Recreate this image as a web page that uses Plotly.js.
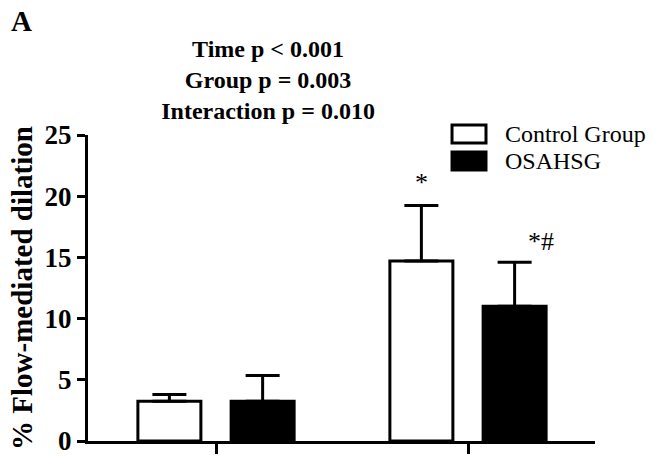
<!DOCTYPE html>
<html>
<head>
<meta charset="utf-8">
<script src="https://cdn.plot.ly/plotly-3.0.1.min.js"></script>
<style>html,body{margin:0;padding:0;background:#fff;}#chart{width:657px;height:456px;}</style>
</head>
<body>
<div id="chart"></div>
<script>
// Data
const categories = ["Baseline", "Follow-up"];
const seriesNames = ["Control Group", "OSAHSG"];
const controlValues = [3.25, 14.7];
const controlErrors = [0.55, 4.55];
const osahsgValues = [3.25, 11.0];
const osahsgErrors = [2.1, 3.6];
const controlMarks = ["", "*"];
const osahsgMarks = ["", "*#"];
const titleLines = ["Time p < 0.001", "Group p = 0.003", "Interaction p = 0.010"];
const yTicks = [0, 5, 10, 15, 20, 25];

const serif = "Liberation Serif, Times New Roman, serif";
const barW = 0.25;
const offsets = [-0.31, 0.06];

const errStyle = (arr) => ({
  type: "data", array: arr, arrayminus: arr.map(() => 0), symmetric: false,
  color: "#000", thickness: 3, width: 17, visible: true
});

const traces = [
  {
    type: "bar", name: seriesNames[0], x: categories, y: controlValues,
    width: barW, offset: offsets[0],
    marker: {color: "#fff", line: {color: "#000", width: 3}},
    error_y: errStyle(controlErrors), showlegend: false, hoverinfo: "skip"
  },
  {
    type: "bar", name: seriesNames[1], x: categories, y: osahsgValues,
    width: barW, offset: offsets[1],
    marker: {color: "#000", line: {color: "#000", width: 3}},
    error_y: errStyle(osahsgErrors), showlegend: false, hoverinfo: "skip"
  }
];

const annotations = [];
categories.forEach((c, i) => {
  if (controlMarks[i]) annotations.push({
    x: i + offsets[0] + barW / 2, y: controlValues[i] + controlErrors[i], xref: "x", yref: "y",
    text: controlMarks[i], showarrow: false, yanchor: "bottom", yshift: 6,
    font: {family: serif, size: 26, color: "#000"}
  });
  if (osahsgMarks[i]) annotations.push({
    x: i + offsets[1] + barW / 2, y: osahsgValues[i] + osahsgErrors[i], xref: "x", yref: "y",
    text: osahsgMarks[i], showarrow: false, xanchor: "left", xshift: 11, yanchor: "bottom", yshift: 4,
    font: {family: serif, size: 26, color: "#000"}
  });
});
// panel label
annotations.push({
  x: -0.156, y: 1.43, xref: "paper", yref: "paper", text: "<b>A</b>", showarrow: false,
  xanchor: "left", yanchor: "top", font: {family: serif, size: 29, color: "#000"}
});
// manual legend
const shapes = [
  {type: "rect", xref: "paper", yref: "paper", x0: 0.718, x1: 0.785, y0: 0.974, y1: 1.0326,
   line: {color: "#000", width: 3}, fillcolor: "#fff"},
  {type: "rect", xref: "paper", yref: "paper", x0: 0.718, x1: 0.785, y0: 0.886, y1: 0.9445,
   line: {color: "#000", width: 3}, fillcolor: "#000"}
];
annotations.push({
  x: 0.8185, y: 1.003, xref: "paper", yref: "paper", text: seriesNames[0], showarrow: false,
  xanchor: "left", yanchor: "middle", font: {family: serif, size: 24, color: "#000"}
});
annotations.push({
  x: 0.8185, y: 0.915, xref: "paper", yref: "paper", text: seriesNames[1], showarrow: false,
  xanchor: "left", yanchor: "middle", font: {family: serif, size: 24, color: "#000"}
});

const layout = {
  width: 657, height: 456,
  margin: {l: 88, r: 62, t: 135, b: 14.5},
  paper_bgcolor: "#fff", plot_bgcolor: "#fff",
  barmode: "overlay",
  title: {
    text: titleLines.map(t => "<b>" + t + "</b>").join("<br>"),
    xref: "container", yref: "container", x: 0.408, xanchor: "center",
    y: 1 - 57 / 456, yanchor: "top",
    font: {family: serif, size: 24, color: "#000"}
  },
  xaxis: {
    type: "category", range: [-0.508, 1.504], showticklabels: false,
    ticks: "outside", ticklen: 10, tickwidth: 3, tickcolor: "#000",
    showline: true, linecolor: "#000", linewidth: 3, showgrid: false, zeroline: false,
    fixedrange: true
  },
  yaxis: {
    range: [0, 25], tickvals: yTicks, ticktext: yTicks.map(String),
    ticks: "outside", ticklen: 8, tickwidth: 3, tickcolor: "#000",
    showline: true, linecolor: "#000", linewidth: 3, showgrid: false, zeroline: false,
    ticklabeloverflow: "allow",
    tickfont: {family: serif, size: 27, color: "#000", weight: "bold"},
    title: {text: "<b>% Flow-mediated dilation</b>", font: {family: serif, size: 29, color: "#000"}, standoff: 4},
    fixedrange: true
  },
  annotations: annotations,
  shapes: shapes,
  showlegend: false
};

Plotly.newPlot("chart", traces, layout, {displayModeBar: false, staticPlot: true});
</script>
</body>
</html>
